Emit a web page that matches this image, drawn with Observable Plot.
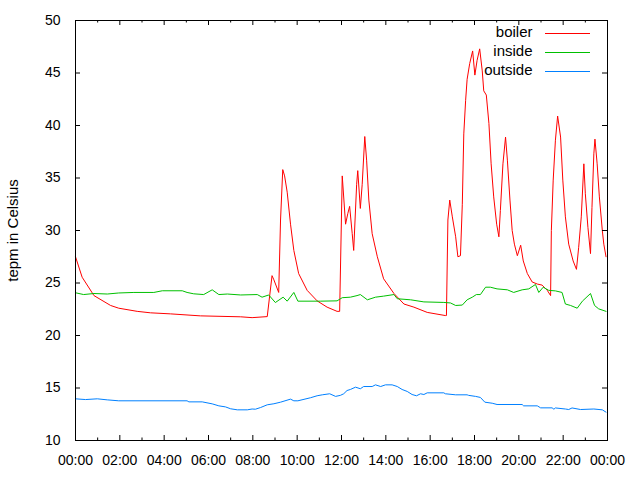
<!DOCTYPE html>
<html><head><meta charset="utf-8">
<script src="https://cdn.jsdelivr.net/npm/d3@7"></script>
<script src="https://cdn.jsdelivr.net/npm/@observablehq/plot@0.6"></script>
<style>body{margin:0;background:#fff;}</style>
</head><body><div id="chart"></div>
<script>
const seriesNames = ["boiler", "inside", "outside"];
const seriesColors = ["#ff0000", "#00c000", "#0080ff"];

const boilerTimes = ["00:00","00:18","00:50","01:35","01:57","02:47","03:23","04:17","05:38","07:27",
"07:58","08:39","08:52","08:57","09:10","09:15","09:21","09:26","09:33","09:42",
"09:51","10:04","10:27","10:54","11:21","11:48","11:55","12:02","12:11","12:17",
"12:22","12:29","12:33","12:41","12:44","12:51","12:56","13:03","13:08","13:14",
"13:23","13:37","13:54","14:22","14:49","15:16","15:52","16:41","16:44","16:48",
"16:53","17:00","17:09","17:15","17:22","17:27","17:31","17:36","17:40","17:47",
"17:55","18:01","18:07","18:14","18:21","18:25","18:32","18:39","18:45","18:52",
"19:00","19:06","19:10","19:17","19:24","19:29","19:36","19:42","19:48","19:56",
"20:05","20:12","20:23","20:36","20:50","21:03","21:17","21:26","21:28","21:33",
"21:39","21:45","21:53","21:59","22:06","22:15","22:27","22:36","22:42","22:49",
"22:56","23:00","23:07","23:14","23:18","23:23","23:26","23:32","23:38","23:46",
"23:50","23:56"];
const boilerValues = [27.5,25.55,23.8,22.86,22.6,22.3,22.16,22.06,21.87,21.78,
21.7,21.8,25.7,25.3,24.1,31,35.8,35.2,33.65,30.6,
28.1,25.9,24.3,23.3,22.7,22.3,22.3,35.2,30.6,31.6,
32.3,29.7,28.1,34.4,35.7,32.1,34.4,38.95,36.7,32.9,
29.7,27.5,25.4,24.0,23.0,22.7,22.2,21.9,21.9,31,
32.9,31.3,29.4,27.5,27.6,32.5,39.2,42.4,44.4,45.9,
47.1,44.8,46.2,47.3,45.2,43.3,42.9,40.2,36.35,33.2,
30.6,29.4,31.9,36.35,38.9,36.7,32.9,30,28.7,27.6,
28.6,27.1,25.9,25.1,24.9,24.8,24.3,23.8,30,34.8,
38.6,40.9,38.9,34.8,31.3,28.7,27.1,26.3,28.4,31.3,
36.35,33.5,30.3,27.8,32.2,37.3,38.7,36.35,33.2,30,
28.7,27.5];

const insideTimes = ["00:00","00:22","00:50","01:26","01:57","02:38","03:32","03:55","04:49","05:02",
"05:20","05:47","06:10","06:28","06:51","07:27","08:12","08:25","08:43","09:01",
"09:22","09:33","09:51","10:02","11:03","11:48","12:02","12:24","12:42","12:51",
"13:10","13:32","13:54","14:22","14:31","15:07","15:43","16:37","16:55","17:09",
"17:27","17:40","17:54","18:05","18:16","18:30","18:43","19:01","19:29","19:46",
"20:09","20:27","20:45","20:54","21:06","21:21","21:39","21:57","22:06","22:20",
"22:38","22:52","23:14","23:25","23:36","23:56"];
const insideValues = [24.07,23.9,24.0,23.95,24.05,24.1,24.1,24.26,24.26,24.1,
23.97,23.9,24.35,23.9,23.95,23.86,23.9,23.65,23.86,23.14,
23.65,23.27,24.1,23.27,23.27,23.3,23.6,23.65,23.8,23.9,
23.4,23.65,23.75,23.9,23.5,23.4,23.2,23.15,23.1,22.86,
22.9,23.4,23.65,23.9,23.9,24.6,24.6,24.44,24.35,24.1,
24.35,24.44,24.86,24.1,24.6,24.3,24.25,24.1,23.0,22.86,
22.6,23.27,24.0,22.86,22.54,22.3];

const outsideTimes = ["00:00","00:27","00:59","01:26","01:57","05:02","05:07","05:43","06:10","06:28",
"06:46","07:00","07:18","07:45","07:58","08:07","08:21","08:39","08:57","09:15",
"09:42","09:51","10:02","10:36","10:54","11:08","11:28","11:44","11:57","12:06",
"12:15","12:24","12:38","12:51","13:00","13:23","13:32","13:46","13:59","14:17",
"14:31","14:44","14:58","15:11","15:23","15:34","15:43","15:52","16:37","16:41",
"17:09","17:40","17:44","18:03","18:16","18:28","18:48","19:01","20:09","20:13",
"20:50","20:59","21:30","21:35","21:39","22:06","22:15","22:24","22:47","23:23",
"23:46","23:56"];
const outsideValues = [13.97,13.9,13.97,13.87,13.78,13.78,13.68,13.68,13.49,13.3,
13.2,13.02,12.92,12.92,13.0,12.98,13.14,13.4,13.5,13.65,
13.94,13.78,13.78,14.07,14.26,14.35,14.45,14.2,14.3,14.45,
14.76,14.86,15.08,14.93,15.14,15.14,15.3,15.14,15.3,15.3,
15.14,14.86,14.67,14.38,14.26,14.45,14.38,14.54,14.54,14.45,
14.35,14.35,14.3,14.2,14.1,13.65,13.55,13.43,13.43,13.3,
13.3,13.11,13.11,12.98,13.1,13.0,12.95,13.1,12.95,13.0,
12.92,12.7];

const xTickHours = [0,2,4,6,8,10,12,14,16,18,20,22,24];
const xTickLabels = ["00:00","02:00","04:00","06:00","08:00","10:00","12:00","14:00","16:00","18:00","20:00","22:00","00:00"];
const xMinorHours = [1,3,5,7,9,11,13,15,17,19,21,23];
const yTicks = [10,15,20,25,30,35,40,45,50];
const yLabel = "tepm in Celsius";

const toHours = s => { const [h, m] = s.split(":").map(Number); return h + m / 60; };
const rows = [];
[[boilerTimes, boilerValues], [insideTimes, insideValues], [outsideTimes, outsideValues]].forEach(([ts, vs], i) => {
  ts.forEach((t, j) => rows.push({series: seriesNames[i], hour: toHours(t), temp: vs[j]}));
});

const W = 640, H = 480, mL = 75, mR = 33, mT = 20, mB = 40;
const fw = W - mL - mR, fh = H - mT - mB;
const font = "'Liberation Sans', Arial, sans-serif";

const legendMarks = seriesNames.map((name, i) =>
  Plot.text([name], {text: d => d, frameAnchor: "top-right", dx: -75, dy: 12 + i * 19,
    textAnchor: "end", lineAnchor: "middle", fontSize: 15})
);

const chart = Plot.plot({
  width: W, height: H,
  marginLeft: mL, marginRight: mR, marginTop: mT, marginBottom: mB,
  style: {fontFamily: font, fontSize: "14px", background: "#fff", color: "#000"},
  x: {domain: [0, 24]},
  y: {domain: [10, 50]},
  color: {domain: seriesNames, range: seriesColors},
  marks: [
    Plot.line(rows, {x: "hour", y: "temp", z: "series", stroke: "series", strokeWidth: 1}),
    Plot.frame({stroke: "#000", strokeWidth: 1}),
    Plot.ruleX(xTickHours, {x: d => d, insetTop: fh - 5, stroke: "#000"}),
    Plot.ruleX(xTickHours, {x: d => d, insetBottom: fh - 5, stroke: "#000"}),
    Plot.ruleX(xMinorHours, {x: d => d, insetTop: fh - 2.5, stroke: "#000"}),
    Plot.ruleX(xMinorHours, {x: d => d, insetBottom: fh - 2.5, stroke: "#000"}),
    Plot.ruleY(yTicks, {y: d => d, insetRight: fw - 5, stroke: "#000"}),
    Plot.ruleY(yTicks, {y: d => d, insetLeft: fw - 5, stroke: "#000"}),
    Plot.axisX(xTickHours, {anchor: "bottom", tickSize: 0, tickPadding: 15, label: null, fontSize: 14,
      tickFormat: d => xTickLabels[xTickHours.indexOf(d)]}),
    Plot.axisY(yTicks, {anchor: "left", tickSize: 0, tickPadding: 15, label: null, fontSize: 14}),
    Plot.text([yLabel], {text: d => d, frameAnchor: "left", rotate: -90, dx: -62,
      textAnchor: "middle", lineAnchor: "middle", fontSize: 15}),
    ...legendMarks
  ]
});

const svg = d3.select(chart);
seriesNames.forEach((name, i) => {
  svg.append("line")
    .attr("x1", W - mR - 62).attr("x2", W - mR - 17)
    .attr("y1", mT + 13.5 + i * 19).attr("y2", mT + 13.5 + i * 19)
    .attr("stroke", seriesColors[i]).attr("stroke-width", 1);
});

document.getElementById("chart").appendChild(chart);
</script>
</body></html>
